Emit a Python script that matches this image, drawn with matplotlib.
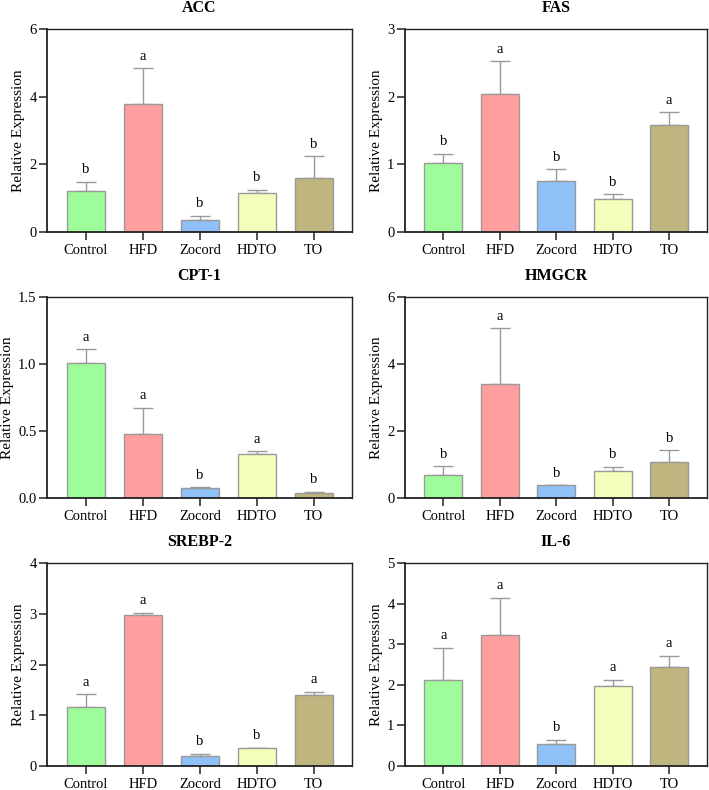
import numpy as np
import matplotlib
matplotlib.use("Agg")
import matplotlib.pyplot as plt

plt.rcParams["font.family"] = ["Liberation Serif", "DejaVu Serif"]

groups = ["Control", "HFD", "Zocord", "HDTO", "TO"]
colors = ["#9efc9a", "#ff9e9e", "#8fc0f8", "#f5fdba", "#bfb57e"]

# gene panels: means, upper error lengths, significance letters
acc_mean = [1.22, 3.77, 0.36, 1.15, 1.61]
acc_err = [0.26, 1.07, 0.12, 0.10, 0.63]
acc_sig = ["b", "a", "b", "b", "b"]

fas_mean = [1.02, 2.04, 0.76, 0.49, 1.58]
fas_err = [0.14, 0.48, 0.17, 0.07, 0.19]
fas_sig = ["b", "a", "b", "b", "a"]

cpt_mean = [1.01, 0.476, 0.074, 0.332, 0.040]
cpt_err = [0.10, 0.198, 0.005, 0.018, 0.007]
cpt_sig = ["a", "a", "b", "a", "b"]

hmg_mean = [0.70, 3.39, 0.376, 0.82, 1.07]
hmg_err = [0.25, 1.68, 0.010, 0.12, 0.36]
hmg_sig = ["b", "a", "b", "b", "b"]

srebp_mean = [1.16, 2.98, 0.20, 0.35, 1.39]
srebp_err = [0.25, 0.04, 0.04, 0.01, 0.07]
srebp_sig = ["a", "a", "b", "b", "a"]

il6_mean = [2.11, 3.22, 0.54, 1.97, 2.43]
il6_err = [0.80, 0.92, 0.11, 0.16, 0.29]
il6_sig = ["a", "a", "b", "a", "a"]

panels = [
    ("ACC", acc_mean, acc_err, acc_sig, 6, [0, 2, 4, 6], ["0", "2", "4", "6"]),
    ("FAS", fas_mean, fas_err, fas_sig, 3, [0, 1, 2, 3], ["0", "1", "2", "3"]),
    ("CPT-1", cpt_mean, cpt_err, cpt_sig, 1.5, [0, 0.5, 1.0, 1.5], ["0.0", "0.5", "1.0", "1.5"]),
    ("HMGCR", hmg_mean, hmg_err, hmg_sig, 6, [0, 2, 4, 6], ["0", "2", "4", "6"]),
    ("SREBP-2", srebp_mean, srebp_err, srebp_sig, 4, [0, 1, 2, 3, 4], ["0", "1", "2", "3", "4"]),
    ("IL-6", il6_mean, il6_err, il6_sig, 5, [0, 1, 2, 3, 4, 5], ["0", "1", "2", "3", "4", "5"]),
]

W, H = 709, 790
fig = plt.figure(figsize=(W / 100, H / 100), dpi=100)

cols = [(47, 352), (405, 707)]
rows = [(29, 232), (297, 498), (563, 766)]

x = np.arange(len(groups))
for i, (name, mean, err, sig, ymax, ticks, tlabels) in enumerate(panels):
    l, r = cols[i % 2]
    t, b = rows[i // 2]
    ax = fig.add_axes([l / W, 1 - b / H, (r - l) / W, (b - t) / H])
    ax.bar(x, mean, width=0.67, color=colors, edgecolor="#9a9a9a", linewidth=1.0, zorder=2)
    ax.errorbar(x, mean, yerr=[np.zeros(len(mean)), err], fmt="none",
                ecolor="#9a9a9a", elinewidth=1.0, capsize=7, capthick=1.0, zorder=1)
    for xi, m, e, s in zip(x, mean, err, sig):
        ax.annotate(s, (xi, m + e), xytext=(0, 4), textcoords="offset points",
                    ha="center", va="bottom", fontsize=10.5)
    ax.set_xlim(-0.68, 4.67)
    ax.set_ylim(0, ymax)
    ax.set_yticks(ticks)
    ax.set_yticklabels(tlabels)
    ax.set_xticks(x)
    ax.set_xticklabels(groups)
    ax.tick_params(axis="both", labelsize=10.5, direction="out", color="#222222", width=1.1)
    ax.tick_params(axis="y", length=6, pad=1.5)
    ax.tick_params(axis="x", length=6, pad=3)
    for sp in ax.spines.values():
        sp.set_color("#222222")
        sp.set_linewidth(1.0)
    ax.spines["left"].set_linewidth(1.3)
    ax.spines["bottom"].set_linewidth(1.3)
    ax.set_ylabel("Relative Expression", fontsize=11, labelpad=3)
    ax.set_title(name, fontsize=11.5, fontweight="bold", pad=12)

fig.savefig("out.png", dpi=100)
